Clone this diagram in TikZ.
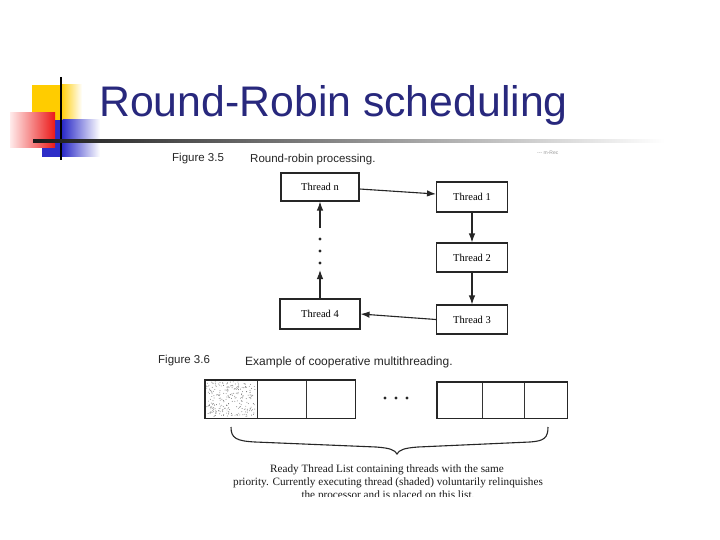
\documentclass[tikz,border=0pt]{standalone}
\usepackage{fontspec}
\setmainfont{Liberation Serif}
\newfontfamily\hsans{Liberation Sans}
\newfontfamily\tserif{Liberation Serif}
\usetikzlibrary{arrows.meta}
\definecolor{titleblue}{RGB}{40,40,125}
\definecolor{decoyellow}{RGB}{255,204,0}
\definecolor{decoblue}{RGB}{45,45,200}
\definecolor{decored}{RGB}{235,25,25}
\definecolor{decopink}{RGB}{255,235,235}
\tikzset{
  threadbox/.style={draw=black!85, line width=1.1pt, fill=white, inner sep=0pt,
    minimum width=71pt, minimum height=29pt, font=\tserif\fontsize{10.5}{12}\selectfont},
  cellbox/.style={draw=black!80, line width=0.6pt, inner sep=0pt, minimum height=38pt, anchor=north west},
  flow/.style={draw=black!85, line width=1.1pt, -{Latex[length=9pt,width=6.5pt]}},
  figlabel/.style={font=\hsans\fontsize{11.5}{13}\selectfont, anchor=base west, text=black!85, inner sep=0pt},
  caption/.style={font=\tserif\fontsize{11.2}{12.5}\selectfont, inner sep=0pt, anchor=base, text=black!90},
  dotmark/.style={fill=black!85}
}
\begin{document}
\begin{tikzpicture}[x=1pt,y=-1pt]
\useasboundingbox (0,0) rectangle (720,540);
\fill[white] (0,0) rectangle (720,540);

% ---- decoration top-left
\fill[decoyellow] (32,85) rectangle (61,122);
\shade[left color=decoyellow, right color=white] (60.5,85) rectangle (82,122);
\fill[decoblue] (42,120) rectangle (63,157);
\shade[left color=decoblue, right color=white] (62.5,120) rectangle (100,157);
\shade[left color=decopink, right color=decored] (10,113) rectangle (55,148);
\draw[black, line width=2.5pt] (61,77) -- (61,160);
\shade[left color=black!90, right color=white] (33,139.7) rectangle (665,142.5);

% ---- title
\node[anchor=base west, inner sep=0pt, text=titleblue,
      font=\hsans\fontsize{42.8}{46}\selectfont] (title) at (99,117) {Round-Robin scheduling};

% ---- Figure 3.5
\node[figlabel] (f35) at (172,162) {Figure 3.5};
\node[figlabel] (f35c) at (250,163) {Round-robin processing.};
\node[anchor=base west, inner sep=0pt, text=black!40, font=\hsans\fontsize{5}{6}\selectfont] (scrap) at (537,155) {--- m-Rec};

\node[threadbox, minimum width=78pt, minimum height=28pt] (tn) at (320,187) {Thread n};
\node[threadbox, minimum height=30pt] (t1) at (472,197) {Thread 1};
\node[threadbox] (t2) at (472,257.5) {Thread 2};
\node[threadbox] (t3) at (472,319.5) {Thread 3};
\node[threadbox, minimum width=80pt, minimum height=30pt] (t4) at (320,314) {Thread 4};

\coordinate (upA) at (320,270);
\coordinate (upB) at (320,228);
\draw[flow] ([yshift=-2pt]tn.east) -- ([yshift=3pt]t1.west);
\draw[flow] (t1.south) -- (t2.north);
\draw[flow] (t2.south) -- (t3.north);
\draw[flow] (t3.west) -- (t4.east);
\draw[flow] (t4.north) -- (upA);
\draw[flow] (upB) -- (tn.south);
\fill[dotmark] (320,239) circle (1.7);
\fill[dotmark] (320,251) circle (1.7);
\fill[dotmark] (320,263) circle (1.7);

% ---- Figure 3.6
\node[figlabel] (f36) at (158,363) {Figure 3.6};
\node[figlabel, font=\hsans\fontsize{12}{13}\selectfont] (f36c) at (245,365.5) {Example of cooperative multithreading.};

\node[cellbox, minimum width=52pt] (c1) at (205,380) {};
\node[cellbox, minimum width=49pt] (c2) at (257,380) {};
\node[cellbox, minimum width=49pt] (c3) at (306,380) {};
\node[cellbox, minimum width=45pt, minimum height=36pt] (c4) at (437,382) {};
\node[cellbox, minimum width=42pt, minimum height=36pt] (c5) at (482,382) {};
\node[cellbox, minimum width=43pt, minimum height=36pt] (c6) at (524,382) {};
\draw[black!85, line width=1.3pt] (c1.north west) rectangle (c3.south east);
\draw[black!85, line width=1.3pt] (c4.north west) rectangle (c6.south east);

% speckled shading of the executing thread
\pgfmathsetseed{7}
\foreach \i in {1,...,260}{
  \pgfmathsetmacro\px{206.5+49*rnd}
  \pgfmathsetmacro\py{381.5+35*rnd}
  \fill[black!55] (\px,\py) circle (0.45);
}

\fill[dotmark] (385,398) circle (1.6);
\fill[dotmark] (396,398) circle (1.6);
\fill[dotmark] (407,398) circle (1.6);

% brace
\draw[black!85, line width=1.1pt]
  (231,427) .. controls (231,438) and (236,441) .. (255,442)
  -- (376,447) .. controls (390,448) and (395,450) .. (397,454)
  .. controls (399,450) and (404,448) .. (418,447)
  -- (530,442) .. controls (544,441) and (548,438) .. (548,427);

\node[caption] (cap1) at (387,472.5) {Ready Thread List containing threads with the same};
\node[caption] (cap2) at (388,485) {priority. Currently executing thread (shaded) voluntarily relinquishes};
\begin{scope}
  \clip (0,0) rectangle (720,496.5);
  \node[caption] (cap3) at (388,498.5) {the processor and is placed on this list.};
\end{scope}
\end{tikzpicture}
\end{document}
